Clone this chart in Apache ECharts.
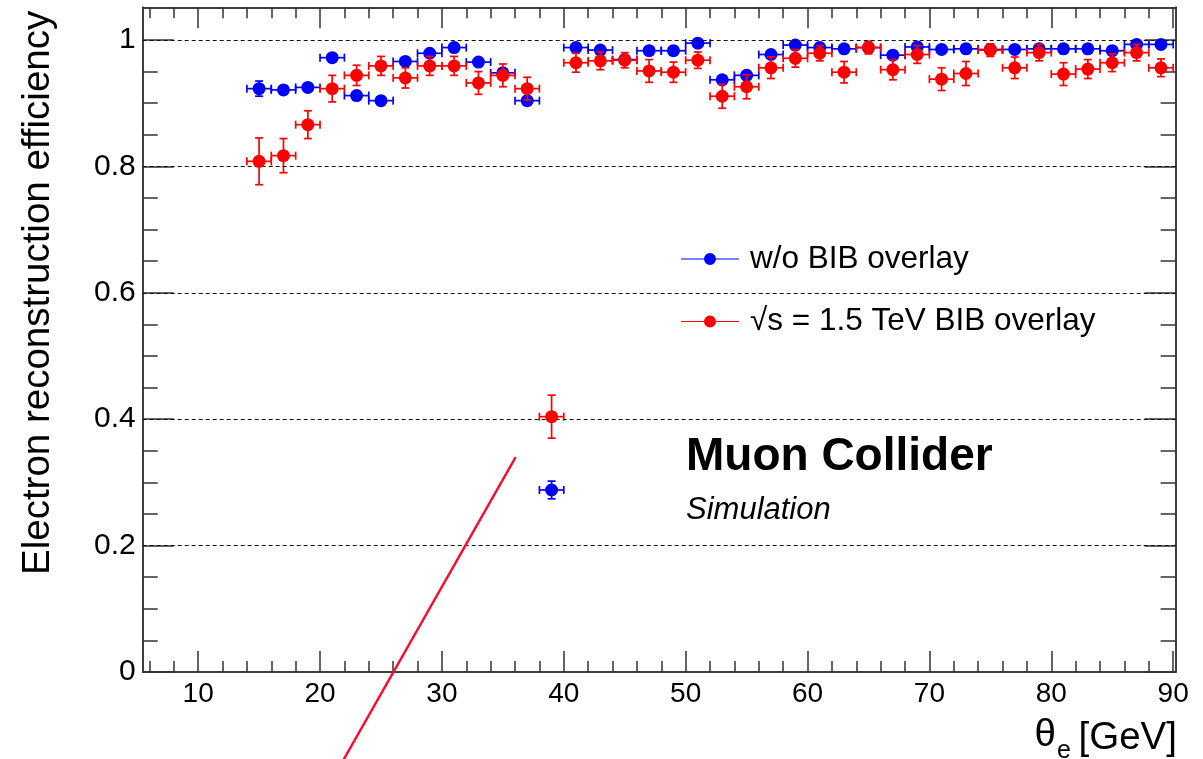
<!DOCTYPE html>
<html>
<head>
<meta charset="utf-8">
<script src="https://cdn.jsdelivr.net/npm/echarts@6/dist/echarts.min.js"></script>
<style>
  html, body { margin: 0; padding: 0; background: #ffffff; }
  #chart { width: 1203px; height: 759px; }
</style>
</head>
<body>
<div id="chart"></div>
<script>
// Bin centres (bin width 2, so the horizontal error is +-1)
const thetaBins = [15,17,19,21,23,25,27,29,31,33,35,37,39,41,43,45,47,49,51,53,
                   55,57,59,61,63,65,67,69,71,73,75,77,79,81,83,85,87,89];
const binHalfWidth = 1;

// Efficiency without beam-induced background
const effNoBIB = [0.923,0.921,0.925,0.972,0.912,0.904,0.966,0.979,0.988,0.965,
                  0.948,0.904,0.288,0.988,0.984,0.969,0.983,0.983,0.995,0.937,
                  0.944,0.977,0.992,0.988,0.986,0.988,0.976,0.989,0.985,0.986,
                  0.985,0.985,0.986,0.986,0.986,0.983,0.993,0.993];
const errNoBIB = [0.012,0.005,0.005,0.004,0.005,0.005,0.004,0.004,0.003,0.004,
                  0.005,0.005,0.014,0.003,0.004,0.004,0.004,0.004,0.003,0.006,
                  0.006,0.004,0.003,0.003,0.003,0.003,0.004,0.003,0.003,0.003,
                  0.003,0.003,0.003,0.003,0.003,0.004,0.003,0.003];

// Efficiency with the 1.5 TeV BIB overlay
const effBIB = [0.808,0.817,0.866,0.923,0.944,0.959,0.940,0.959,0.959,0.932,
                0.944,0.923,0.404,0.964,0.967,0.968,0.951,0.949,0.968,0.911,
                0.926,0.956,0.971,0.979,0.949,0.988,0.953,0.977,0.938,0.947,
                0.984,0.956,0.980,0.946,0.954,0.964,0.980,0.956];
const errBIB = [0.037,0.027,0.022,0.021,0.016,0.015,0.016,0.015,0.015,0.018,
                0.018,0.018,0.034,0.015,0.014,0.012,0.018,0.016,0.013,0.019,
                0.019,0.017,0.014,0.012,0.017,0.010,0.016,0.014,0.018,0.019,
                0.010,0.017,0.013,0.018,0.015,0.014,0.013,0.014];

// Axis ranges and tick positions
const X_MIN = 5.45, X_MAX = 90.2;
const Y_MIN = 0, Y_MAX = 1.0517;
const xMajorTicks = [10,20,30,40,50,60,70,80,90];
const xMinorTicks = [6,8,12,14,16,18,22,24,26,28,32,34,36,38,42,44,46,48,52,54,56,58,
                     62,64,66,68,72,74,76,78,82,84,86,88];
const yMajorTicks = [0,0.2,0.4,0.6,0.8,1];
const yMinorTicks = [0.05,0.1,0.15,0.25,0.3,0.35,0.45,0.5,0.55,0.65,0.7,0.75,0.85,0.9,0.95];
const gridLevels = [0.2,0.4,0.6,0.8,1];

// Hand-drawn red stroke (data coordinates of its two ends)
const guideStroke = [[36.05,0.340],[21.6,-0.15]];

const NAME_NOBIB = 'w/o BIB overlay';
const NAME_BIB = '\u221As = 1.5 TeV BIB overlay';
const BLUE = '#0000ff', RED = '#ff0000';
const FONT = '"Liberation Sans", Arial, Helvetica, sans-serif';
const FRAME = '#333333';

function frameAxis(position, min, max, ticks, tickLen, labels) {
  return {
    type: 'value', position, min, max,
    axisLine: { show: true, onZero: false, lineStyle: { color: FRAME, width: 1.5 } },
    axisTick: { show: true, inside: true, length: tickLen, customValues: ticks,
                lineStyle: { color: FRAME, width: 1.5 } },
    axisLabel: labels
      ? Object.assign({ show: true, customValues: ticks, color: '#000',
                        fontFamily: FONT, fontSize: 28 }, labels)
      : { show: false },
    splitLine: { show: false },
    minorTick: { show: false }
  };
}

function errorBars(name, color, eff, err, z) {
  return {
    type: 'custom',
    name: name + ' errors',
    xAxisIndex: 0, yAxisIndex: 0,
    z,
    silent: true,
    data: thetaBins.map((x, i) => [x, eff[i], err[i]]),
    encode: { x: 0, y: 1 },
    renderItem(params, api) {
      const x = api.value(0), y = api.value(1), e = api.value(2);
      const c = api.coord([x, y]);
      const l = api.coord([x - binHalfWidth, y]);
      const r = api.coord([x + binHalfWidth, y]);
      const t = api.coord([x, y + e]);
      const b = api.coord([x, y - e]);
      const cap = 4;
      const style = { stroke: color, lineWidth: 1.7 };
      const seg = (x1, y1, x2, y2) => ({ type: 'line', shape: { x1, y1, x2, y2 }, style });
      return {
        type: 'group',
        children: [
          seg(l[0], c[1], r[0], c[1]),
          seg(c[0], t[1], c[0], b[1]),
          seg(l[0], c[1] - cap, l[0], c[1] + cap),
          seg(r[0], c[1] - cap, r[0], c[1] + cap),
          seg(c[0] - cap, t[1], c[0] + cap, t[1]),
          seg(c[0] - cap, b[1], c[0] + cap, b[1])
        ]
      };
    }
  };
}

function markers(name, color, eff, z) {
  return {
    type: 'scatter',
    name,
    xAxisIndex: 0, yAxisIndex: 0,
    z,
    symbol: 'circle',
    symbolSize: 13,
    itemStyle: { color, opacity: 1 },
    data: thetaBins.map((x, i) => [x, eff[i]])
  };
}

// Legend icon: thin horizontal line with a dot in the middle
const legendIcon = 'path://M0,5.4L58,5.4L58,6.6L0,6.6Z M29,0A6,6 0 1,1 28.99,0Z';
function legendBox(name, color, top) {
  return {
    data: [{ name, itemStyle: { color, opacity: 1, borderWidth: 0 } }],
    left: 681, top, orient: 'horizontal',
    padding: 0, selectedMode: false,
    icon: legendIcon, itemWidth: 58, itemHeight: 12,
    textStyle: { fontFamily: FONT, fontSize: 31.5, color: '#000', lineHeight: 31,
                 padding: [0, 0, 0, 6] }
  };
}

const chart = echarts.init(document.getElementById('chart'), null, { renderer: 'canvas' });

chart.setOption({
  animation: false,
  backgroundColor: '#ffffff',
  grid: { left: 142.7, right: 27.4, top: 7.3, bottom: 87, containLabel: false },
  xAxis: [
    frameAxis('bottom', X_MIN, X_MAX, xMajorTicks, 21, { margin: 8 }),
    frameAxis('bottom', X_MIN, X_MAX, xMinorTicks, 11, null),
    frameAxis('top', X_MIN, X_MAX, xMajorTicks, 21, null),
    frameAxis('top', X_MIN, X_MAX, xMinorTicks, 11, null)
  ],
  yAxis: [
    frameAxis('left', Y_MIN, Y_MAX, yMajorTicks, 31, { margin: 7, fontSize: 30 }),
    frameAxis('left', Y_MIN, Y_MAX, yMinorTicks, 15, null),
    frameAxis('right', Y_MIN, Y_MAX, yMajorTicks, 31, null),
    frameAxis('right', Y_MIN, Y_MAX, yMinorTicks, 15, null)
  ],
  legend: [legendBox(NAME_NOBIB, BLUE, 243), legendBox(NAME_BIB, RED, 305.5)],
  series: [
    {
      // horizontal grid lines
      type: 'line', name: 'grid', xAxisIndex: 0, yAxisIndex: 0, z: 1,
      data: [], silent: true,
      markLine: {
        silent: true, symbol: ['none', 'none'], label: { show: false },
        lineStyle: { color: '#111', width: 1, type: [4, 3] },
        data: gridLevels.map(v => ({ yAxis: v }))
      }
    },
    errorBars(NAME_NOBIB, BLUE, effNoBIB, errNoBIB, 2),
    markers(NAME_NOBIB, BLUE, effNoBIB, 3),
    errorBars(NAME_BIB, RED, effBIB, errBIB, 4),
    markers(NAME_BIB, RED, effBIB, 5),
    {
      type: 'line', name: 'stroke', xAxisIndex: 0, yAxisIndex: 0, z: 6,
      clip: false, silent: true, symbol: 'none',
      lineStyle: { color: '#fa0a2c', width: 2.4 },
      data: guideStroke
    }
  ],
  graphic: [
    { type: 'text', x: 38, y: 575, rotation: Math.PI / 2, silent: true,
      style: { text: 'Electron reconstruction efficiency', fill: '#000',
               font: '38.5px ' + FONT, align: 'left', verticalAlign: 'middle' } },
    { type: 'text', x: 1056, y: 735, silent: true,
      style: { text: '\u03B8', fill: '#000', font: '38.5px ' + FONT,
               align: 'right', verticalAlign: 'middle' } },
    { type: 'text', x: 1057, y: 751, silent: true,
      style: { text: 'e', fill: '#000', font: '25px ' + FONT,
               align: 'left', verticalAlign: 'middle' } },
    { type: 'text', x: 1177, y: 738, silent: true,
      style: { text: '[GeV]', fill: '#000', font: '38.5px ' + FONT,
               align: 'right', verticalAlign: 'middle' } },
    { type: 'text', x: 686, y: 457, silent: true,
      style: { text: 'Muon Collider', fill: '#000', font: 'bold 46px ' + FONT,
               align: 'left', verticalAlign: 'middle' } },
    { type: 'text', x: 686, y: 510, silent: true,
      style: { text: 'Simulation', fill: '#000', font: 'italic 31px ' + FONT,
               align: 'left', verticalAlign: 'middle' } }
  ]
});
</script>
</body>
</html>
